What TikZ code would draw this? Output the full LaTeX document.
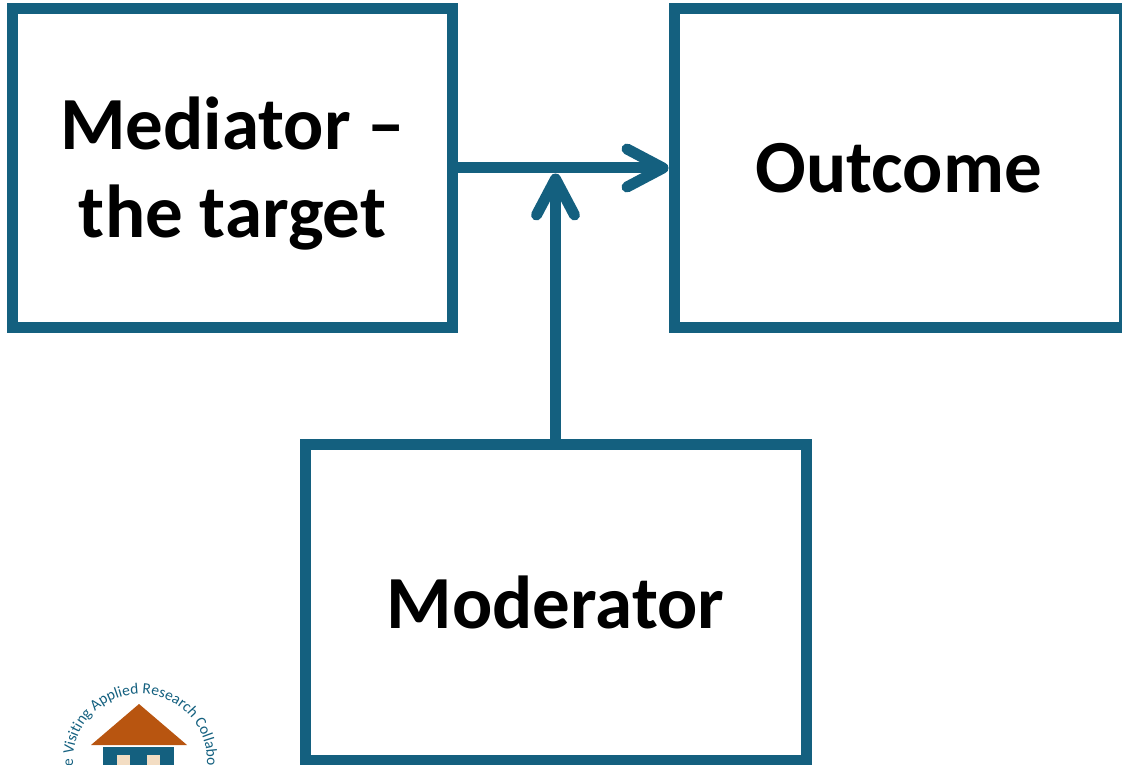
\documentclass[tikz,border=0pt]{standalone}
\usepackage{fontspec}
\setmainfont{Carlito}
\usetikzlibrary{arrows.meta,decorations.text}
\definecolor{boxblue}{HTML}{14607F}
\definecolor{roofbrown}{HTML}{B85510}
\definecolor{windowcream}{HTML}{F3DDC3}
\tikzset{
  blockbox/.style={draw=boxblue, line width=11pt, fill=white, inner sep=0pt, align=center,
    font=\fontsize{75}{88}\selectfont\bfseries},
  link/.style={draw=boxblue, line width=11pt,
    -{Straight Barb[round, length=36pt, width=38pt, line width=11pt]}},
}
\begin{document}
\begin{tikzpicture}[x=1pt, y=-1pt]
  \useasboundingbox (0,0) rectangle (1122,765);
  \clip (0,0) rectangle (1122,765);

  % logo
  \fill[roofbrown] (139,704) -- (187,745) -- (91,745) -- cycle;
  \fill[boxblue] (103,747) rectangle (174,770);
  \fill[windowcream] (117,755) rectangle (130,770);
  \fill[windowcream] (147,755) rectangle (160,770);
  \path[postaction={decorate, decoration={text along path, text align=center,
      text={|\fontsize{15.5}{15}\selectfont\color{boxblue}|e Visiting Applied Research Collabo}}}]
    (75.3,778.3) arc[start angle=165, end angle=375, radius=67];

  \node[blockbox, minimum width=440pt, minimum height=319pt] (mediator) at (232.5,168) {\rule{0pt}{64pt}Mediator --\\the target};
  \node[blockbox, minimum width=450pt, minimum height=319pt] (outcome) at (899,168) {\raisebox{-3pt}{Outcome}};
  \node[blockbox, minimum width=501pt, minimum height=316pt] (moderator) at (555.5,602) {\raisebox{-4pt}{Moderator}};

  \coordinate (junction) at (moderator.north |- mediator.east);

  \draw[link] (mediator.east) -- (outcome.west);
  \draw[link] (moderator.north) -- ([yshift=-5.5pt]junction);
\end{tikzpicture}
\end{document}
